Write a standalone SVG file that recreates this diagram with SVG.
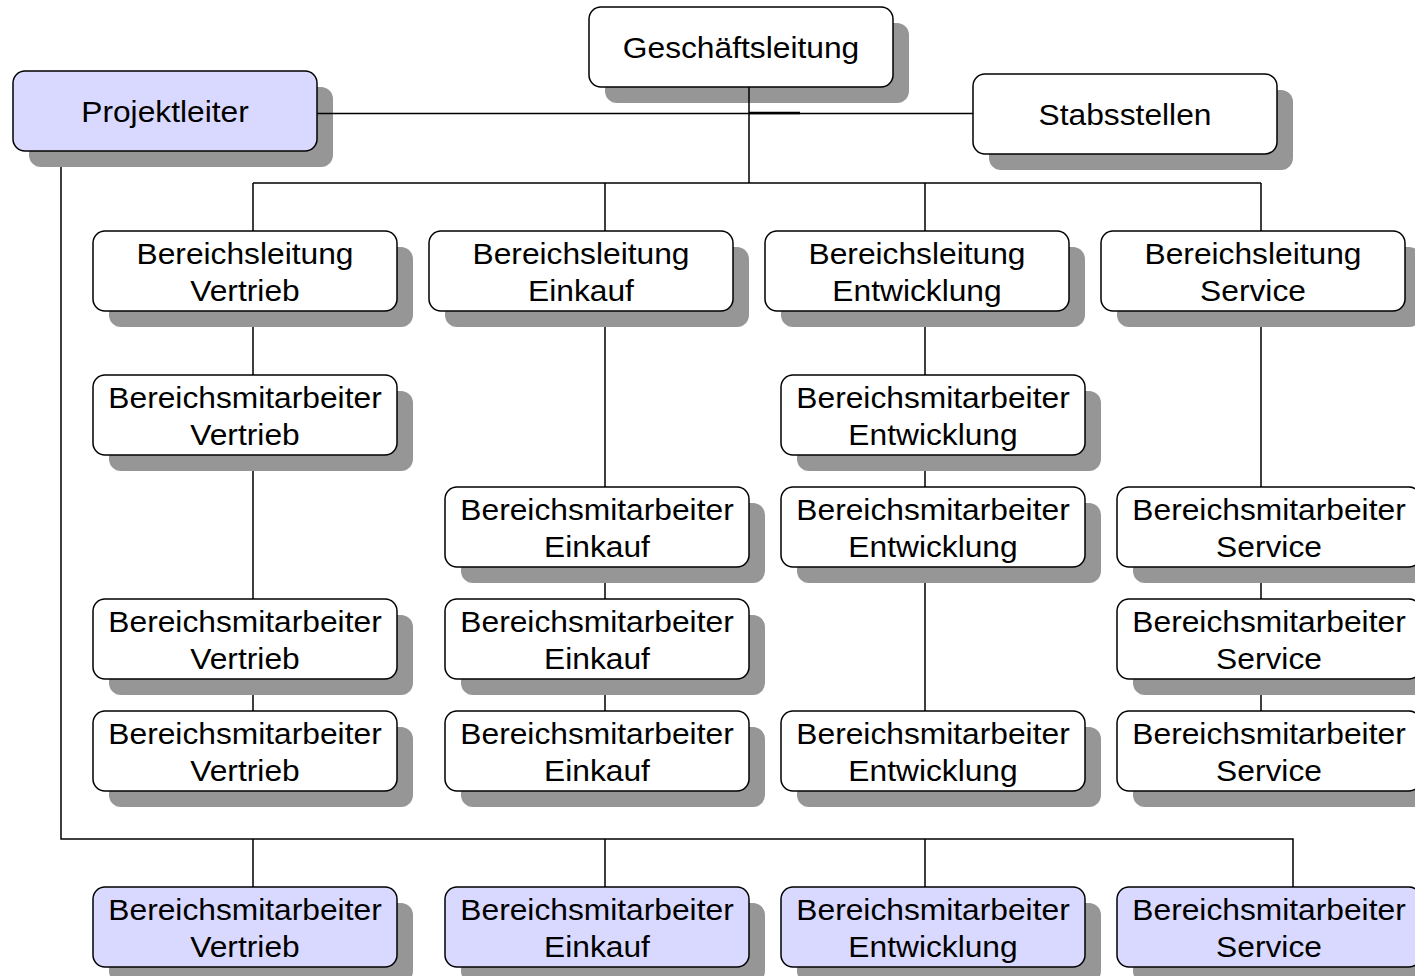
<svg xmlns="http://www.w3.org/2000/svg" width="1415" height="976" viewBox="0 0 1415 976">
<defs>
<style>
.sh{fill:#969696;}
.bx{fill:#ffffff;stroke:#000;stroke-width:1.5;}
.lav{fill:#d9d9ff;}
.t{font-family:"Liberation Sans",Arial,sans-serif;font-size:29px;fill:#000;text-anchor:middle;}
.c{stroke:#000;stroke-width:1.5;fill:none;}
</style>
</defs>
<rect width="1415" height="976" fill="#fff"/>

<g id="gl"><rect class="sh" x="605" y="23" width="304" height="80" rx="12"/><rect class="bx" x="589" y="7" width="304" height="80" rx="12"/><text class="t" transform="translate(741,58) scale(1.095,1)" x="0" y="0">Geschäftsleitung</text></g>
<g id="pl"><rect class="sh" x="29" y="87" width="304" height="80" rx="12"/><rect class="bx lav" x="13" y="71" width="304" height="80" rx="12"/><text class="t" transform="translate(165,122) scale(1.095,1)" x="0" y="0">Projektleiter</text></g>
<g id="stab"><rect class="sh" x="989" y="90" width="304" height="80" rx="12"/><rect class="bx" x="973" y="74" width="304" height="80" rx="12"/><text class="t" transform="translate(1125,125) scale(1.095,1)" x="0" y="0">Stabsstellen</text></g>

<g id="bl_vertrieb"><rect class="sh" x="109" y="247" width="304" height="80" rx="12"/><rect class="bx" x="93" y="231" width="304" height="80" rx="12"/><text class="t" transform="translate(245,264) scale(1.095,1)"><tspan x="0" y="0">Bereichsleitung</tspan><tspan x="0" y="37">Vertrieb</tspan></text></g>
<g id="bl_einkauf"><rect class="sh" x="445" y="247" width="304" height="80" rx="12"/><rect class="bx" x="429" y="231" width="304" height="80" rx="12"/><text class="t" transform="translate(581,264) scale(1.095,1)"><tspan x="0" y="0">Bereichsleitung</tspan><tspan x="0" y="37">Einkauf</tspan></text></g>
<g id="bl_entwicklung"><rect class="sh" x="781" y="247" width="304" height="80" rx="12"/><rect class="bx" x="765" y="231" width="304" height="80" rx="12"/><text class="t" transform="translate(917,264) scale(1.095,1)"><tspan x="0" y="0">Bereichsleitung</tspan><tspan x="0" y="37">Entwicklung</tspan></text></g>
<g id="bl_service"><rect class="sh" x="1117" y="247" width="304" height="80" rx="12"/><rect class="bx" x="1101" y="231" width="304" height="80" rx="12"/><text class="t" transform="translate(1253,264) scale(1.095,1)"><tspan x="0" y="0">Bereichsleitung</tspan><tspan x="0" y="37">Service</tspan></text></g>

<g id="ma_vertrieb_1"><rect class="sh" x="109" y="391" width="304" height="80" rx="12"/><rect class="bx" x="93" y="375" width="304" height="80" rx="12"/><text class="t" transform="translate(245,408) scale(1.095,1)"><tspan x="0" y="0">Bereichsmitarbeiter</tspan><tspan x="0" y="37">Vertrieb</tspan></text></g>
<g id="ma_vertrieb_2"><rect class="sh" x="109" y="615" width="304" height="80" rx="12"/><rect class="bx" x="93" y="599" width="304" height="80" rx="12"/><text class="t" transform="translate(245,632) scale(1.095,1)"><tspan x="0" y="0">Bereichsmitarbeiter</tspan><tspan x="0" y="37">Vertrieb</tspan></text></g>
<g id="ma_vertrieb_3"><rect class="sh" x="109" y="727" width="304" height="80" rx="12"/><rect class="bx" x="93" y="711" width="304" height="80" rx="12"/><text class="t" transform="translate(245,744) scale(1.095,1)"><tspan x="0" y="0">Bereichsmitarbeiter</tspan><tspan x="0" y="37">Vertrieb</tspan></text></g>

<g id="ma_einkauf_1"><rect class="sh" x="461" y="503" width="304" height="80" rx="12"/><rect class="bx" x="445" y="487" width="304" height="80" rx="12"/><text class="t" transform="translate(597,520) scale(1.095,1)"><tspan x="0" y="0">Bereichsmitarbeiter</tspan><tspan x="0" y="37">Einkauf</tspan></text></g>
<g id="ma_einkauf_2"><rect class="sh" x="461" y="615" width="304" height="80" rx="12"/><rect class="bx" x="445" y="599" width="304" height="80" rx="12"/><text class="t" transform="translate(597,632) scale(1.095,1)"><tspan x="0" y="0">Bereichsmitarbeiter</tspan><tspan x="0" y="37">Einkauf</tspan></text></g>
<g id="ma_einkauf_3"><rect class="sh" x="461" y="727" width="304" height="80" rx="12"/><rect class="bx" x="445" y="711" width="304" height="80" rx="12"/><text class="t" transform="translate(597,744) scale(1.095,1)"><tspan x="0" y="0">Bereichsmitarbeiter</tspan><tspan x="0" y="37">Einkauf</tspan></text></g>

<g id="ma_entwicklung_1"><rect class="sh" x="797" y="391" width="304" height="80" rx="12"/><rect class="bx" x="781" y="375" width="304" height="80" rx="12"/><text class="t" transform="translate(933,408) scale(1.095,1)"><tspan x="0" y="0">Bereichsmitarbeiter</tspan><tspan x="0" y="37">Entwicklung</tspan></text></g>
<g id="ma_entwicklung_2"><rect class="sh" x="797" y="503" width="304" height="80" rx="12"/><rect class="bx" x="781" y="487" width="304" height="80" rx="12"/><text class="t" transform="translate(933,520) scale(1.095,1)"><tspan x="0" y="0">Bereichsmitarbeiter</tspan><tspan x="0" y="37">Entwicklung</tspan></text></g>
<g id="ma_entwicklung_3"><rect class="sh" x="797" y="727" width="304" height="80" rx="12"/><rect class="bx" x="781" y="711" width="304" height="80" rx="12"/><text class="t" transform="translate(933,744) scale(1.095,1)"><tspan x="0" y="0">Bereichsmitarbeiter</tspan><tspan x="0" y="37">Entwicklung</tspan></text></g>

<g id="ma_service_1"><rect class="sh" x="1133" y="503" width="304" height="80" rx="12"/><rect class="bx" x="1117" y="487" width="304" height="80" rx="12"/><text class="t" transform="translate(1269,520) scale(1.095,1)"><tspan x="0" y="0">Bereichsmitarbeiter</tspan><tspan x="0" y="37">Service</tspan></text></g>
<g id="ma_service_2"><rect class="sh" x="1133" y="615" width="304" height="80" rx="12"/><rect class="bx" x="1117" y="599" width="304" height="80" rx="12"/><text class="t" transform="translate(1269,632) scale(1.095,1)"><tspan x="0" y="0">Bereichsmitarbeiter</tspan><tspan x="0" y="37">Service</tspan></text></g>
<g id="ma_service_3"><rect class="sh" x="1133" y="727" width="304" height="80" rx="12"/><rect class="bx" x="1117" y="711" width="304" height="80" rx="12"/><text class="t" transform="translate(1269,744) scale(1.095,1)"><tspan x="0" y="0">Bereichsmitarbeiter</tspan><tspan x="0" y="37">Service</tspan></text></g>

<g id="pm_vertrieb"><rect class="sh" x="109" y="903" width="304" height="80" rx="12"/><rect class="bx lav" x="93" y="887" width="304" height="80" rx="12"/><text class="t" transform="translate(245,920) scale(1.095,1)"><tspan x="0" y="0">Bereichsmitarbeiter</tspan><tspan x="0" y="37">Vertrieb</tspan></text></g>
<g id="pm_einkauf"><rect class="sh" x="461" y="903" width="304" height="80" rx="12"/><rect class="bx lav" x="445" y="887" width="304" height="80" rx="12"/><text class="t" transform="translate(597,920) scale(1.095,1)"><tspan x="0" y="0">Bereichsmitarbeiter</tspan><tspan x="0" y="37">Einkauf</tspan></text></g>
<g id="pm_entwicklung"><rect class="sh" x="797" y="903" width="304" height="80" rx="12"/><rect class="bx lav" x="781" y="887" width="304" height="80" rx="12"/><text class="t" transform="translate(933,920) scale(1.095,1)"><tspan x="0" y="0">Bereichsmitarbeiter</tspan><tspan x="0" y="37">Entwicklung</tspan></text></g>
<g id="pm_service"><rect class="sh" x="1133" y="903" width="304" height="80" rx="12"/><rect class="bx lav" x="1117" y="887" width="304" height="80" rx="12"/><text class="t" transform="translate(1269,920) scale(1.095,1)"><tspan x="0" y="0">Bereichsmitarbeiter</tspan><tspan x="0" y="37">Service</tspan></text></g>

<g id="connectors" class="c">
<path class="c" d="M749 87V183M253 183H1261M253 183V231M605 183V231M925 183V231M1261 183V231"/>
<path class="c" d="M317 113.5H973"/>
<path d="M749 113H800" stroke="#000" stroke-width="2.5" fill="none"/>
<path class="c" d="M253 327V375M253 471V599M253 695V711"/>
<path class="c" d="M605 327V487M605 583V599M605 695V711"/>
<path class="c" d="M925 327V375M925 471V487M925 583V711"/>
<path class="c" d="M1261 327V487M1261 583V599M1261 695V711"/>
<path class="c" d="M61 167V839H1293V887M253 839V887M605 839V887M925 839V887"/>
</g>
</svg>
